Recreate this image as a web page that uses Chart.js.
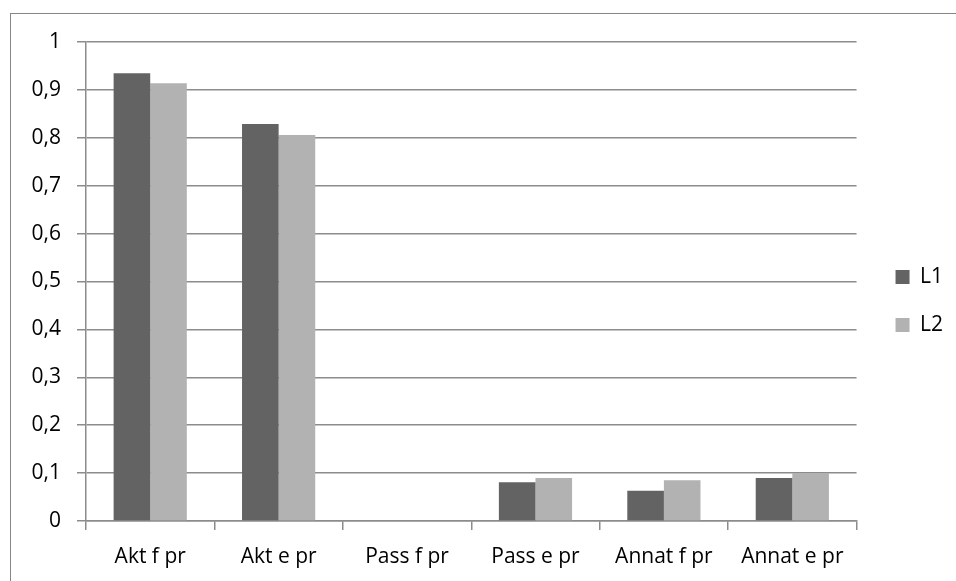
<!DOCTYPE html>
<html>
<head>
<meta charset="utf-8">
<script src="https://cdn.jsdelivr.net/npm/chart.js@4"></script>
<style>
  html, body { margin: 0; padding: 0; background: #fff; }
  #wrap { position: relative; width: 956px; height: 581px; overflow: hidden; }
  #frame { position: absolute; left: 10px; top: 13px; width: 1000px; height: 700px; border: 1px solid #868686; }
  canvas { position: absolute; left: 0; top: 0; }
</style>
</head>
<body>
<div id="wrap">
  <div id="frame"></div>
  <canvas id="chart" width="956" height="581"></canvas>
</div>
<script>
const categories = ['Akt f pr', 'Akt e pr', 'Pass f pr', 'Pass e pr', 'Annat f pr', 'Annat e pr'];
const seriesL1 = [0.935, 0.829, 0, 0.081, 0.063, 0.090];
const seriesL2 = [0.914, 0.806, 0, 0.090, 0.085, 0.100];
const yTicks = [0, 0.1, 0.2, 0.3, 0.4, 0.5, 0.6, 0.7, 0.8, 0.9, 1];

const font = { family: '"Open Sans", sans-serif', size: 21 };
const gridColor = '#8c8c8c';

// empty axis used only to take up room
const spacer = (pos, size) => ({
    type: 'linear',
    position: pos,
    display: true,
    grid: { display: false },
    border: { display: false },
    ticks: { display: false },
    afterFit: scale => {
        if (pos === 'top') scale.height = size;
        else scale.width = size;
    }
});

new Chart(document.getElementById('chart').getContext('2d'), {
    type: 'bar',
    data: {
        labels: categories,
        datasets: [
            { label: 'L1', data: seriesL1, backgroundColor: '#636363', categoryPercentage: 0.57, barPercentage: 1.0 },
            { label: 'L2', data: seriesL2, backgroundColor: '#b2b2b2', categoryPercentage: 0.57, barPercentage: 1.0 }
        ]
    },
    options: {
        responsive: false,
        animation: false,
        layout: { padding: { top: 34, bottom: 13, left: 0, right: 3 } },
        plugins: {
            tooltip: { enabled: false },
            legend: {
                position: 'right',
                labels: { boxWidth: 14, boxHeight: 14, padding: 27, color: '#000', font: font }
            }
        },
        scales: {
            x: {
                afterFit: scale => { scale.height = 47; },
                grid: { offset: true, drawOnChartArea: false, color: gridColor, lineWidth: 1.5, tickLength: 9 },
                border: { color: gridColor, width: 1.5 },
                ticks: { color: '#000', font: font, padding: 14, maxRotation: 0 }
            },
            y: {
                min: 0,
                max: 1,
                afterBuildTicks: scale => { scale.ticks = yTicks.map(v => ({ value: v })); },
                afterFit: scale => { scale.width = 86; },
                grid: { color: gridColor, lineWidth: 1.5, tickLength: 9 },
                border: { color: gridColor, width: 1.5 },
                ticks: {
                    color: '#000', font: font, padding: 16,
                    callback: v => String(v).replace('.', ',')
                }
            },
            spacerRight: spacer('right', 12),
            spacerTop: { ...spacer('top', 8), axis: 'x' }
        }
    }
});
</script>
</body>
</html>
